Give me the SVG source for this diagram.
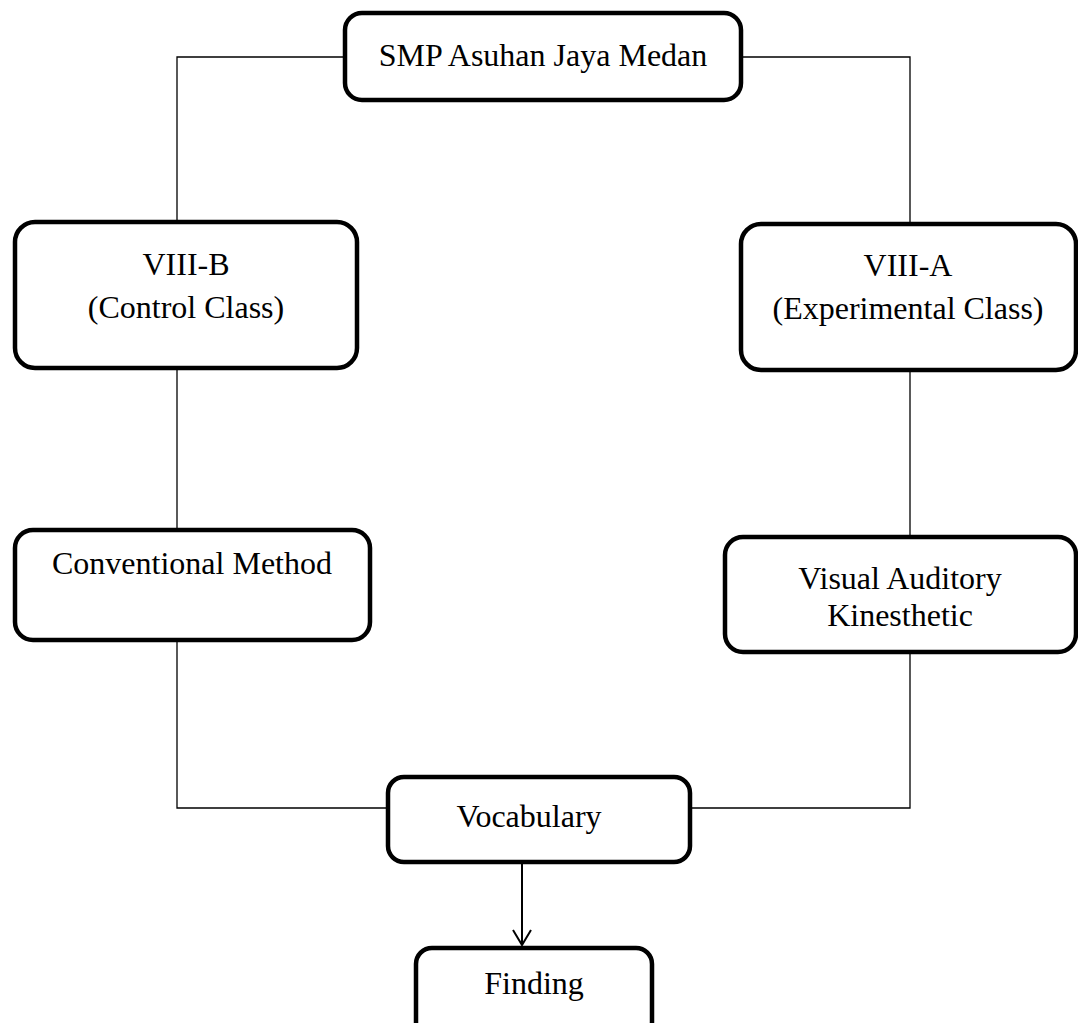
<svg xmlns="http://www.w3.org/2000/svg" width="1078" height="1023" viewBox="0 0 1078 1023">
<defs>
<style>
.box{fill:#fff;stroke:#000;stroke-width:4.5}
.t{font-family:"Liberation Serif","Times New Roman",serif;font-size:32px;fill:#000;text-anchor:middle}
.c{fill:none;stroke:#000;stroke-width:1.3}
</style>
<marker id="arr" markerWidth="20" markerHeight="20" refX="16" refY="10" orient="auto" markerUnits="userSpaceOnUse" viewBox="0 0 20 20">
<path d="M1,1 L16,10 L1,19" fill="none" stroke="#000" stroke-width="2"/>
</marker>
</defs>
<rect width="1078" height="1023" fill="#fff"/>
<g id="connectors">
<polyline class="c" points="345,57 177,57 177,222"/>
<polyline class="c" points="741,57 910,57 910,224"/>
<line class="c" x1="177" y1="368" x2="177" y2="530"/>
<line class="c" x1="910" y1="370" x2="910" y2="537"/>
<polyline class="c" points="177,640 177,808 388,808"/>
<polyline class="c" points="910,652 910,808 690,808"/>
<line x1="522" y1="862" x2="522" y2="945" stroke="#000" stroke-width="2" marker-end="url(#arr)"/>
</g>
<g id="smp">
<rect class="box" x="345" y="13" width="396" height="87" rx="17"/>
<text class="t" x="543" y="66">SMP Asuhan Jaya Medan</text>
</g>
<g id="viiib">
<rect class="box" x="15" y="222" width="342" height="146" rx="20"/>
<text class="t" x="186" y="275">VIII-B</text>
<text class="t" x="186" y="318">(Control Class)</text>
</g>
<g id="viiia">
<rect class="box" x="741" y="224" width="335" height="146" rx="20"/>
<text class="t" x="908" y="276">VIII-A</text>
<text class="t" x="908" y="319">(Experimental Class)</text>
</g>
<g id="conventional">
<rect class="box" x="15" y="530" width="355" height="110" rx="18"/>
<text class="t" x="192" y="574">Conventional Method</text>
</g>
<g id="vak">
<rect class="box" x="725" y="537" width="351" height="115" rx="18"/>
<text class="t" x="900" y="589">Visual Auditory</text>
<text class="t" x="900" y="626">Kinesthetic</text>
</g>
<g id="vocabulary">
<rect class="box" x="388" y="777" width="302" height="85" rx="16"/>
<text class="t" x="529" y="827">Vocabulary</text>
</g>
<g id="finding">
<rect class="box" x="416" y="948" width="236" height="90" rx="16"/>
<text class="t" x="534" y="994">Finding</text>
</g>
</svg>
